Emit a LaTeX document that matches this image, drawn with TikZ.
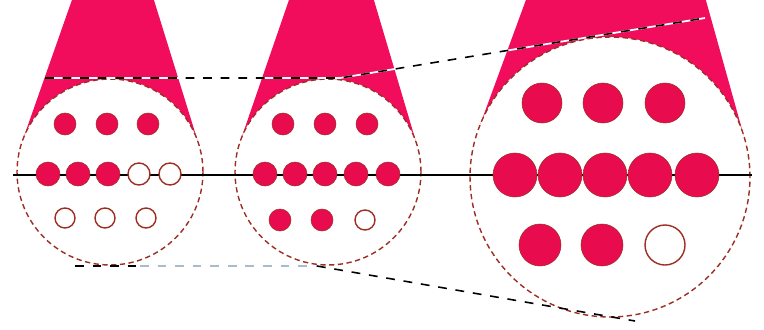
\documentclass[tikz,border=0pt]{standalone}
\usetikzlibrary{calc,backgrounds}
\definecolor{rose}{HTML}{F20C5C}
\definecolor{dotred}{HTML}{E80C4E}
\definecolor{rim}{HTML}{9C2E22}
\definecolor{fadeblue}{HTML}{A8BCCB}
\tikzset{
  lens/.style={circle,draw=rim,densely dashed,line width=0.8pt,fill=white,inner sep=0pt,outer sep=0pt},
  cone/.style={fill=rose},
  dot/.style={fill=dotred,draw=rim,line width=0.3pt},
  hole/.style={fill=white,draw=rim,line width=0.8pt},
  axis/.style={draw=black,line width=1.1pt},
  guide/.style={draw=black,line width=0.9pt,dash pattern=on 5pt off 5pt},
  guidefade/.style={draw=fadeblue,line width=0.9pt,dash pattern=on 5pt off 5pt},
  guidebase/.style={draw=white,line width=1pt}
}
\begin{document}
\begin{tikzpicture}[x=0.02cm,y=-0.02cm]
\useasboundingbox (0,0) rectangle (764,329);
% lenses
\node[lens,minimum size=3.72cm] (l1) at (110,172) {};
\node[lens,minimum size=3.72cm] (l2) at (328,172) {};
\node[lens,minimum size=5.6cm] (l3) at (610,177) {};
% cones behind the lenses
\begin{scope}[on background layer]
\foreach \lens/\lft/\rgt in {l1/73/153,l2/290/373,l3/527/705}{
  \fill[cone] (\lft,-3) -- (\rgt,-3) -- (\lens.center) -- cycle;
  \fill[cone] (\lft,-3) -- (tangent cs:node=\lens,point={(\lft,-3)},solution=1) -- (\lens.center) -- (tangent cs:node=\lens,point={(\lft,-3)},solution=2) -- cycle;
  \fill[cone] (\rgt,-3) -- (tangent cs:node=\lens,point={(\rgt,-3)},solution=1) -- (\lens.center) -- (tangent cs:node=\lens,point={(\rgt,-3)},solution=2) -- cycle;
}
\end{scope}
% guide lines
\draw[guidebase] (45,78) -- (340,78) -- (705,18);
\draw[guide] (45,78) -- (340,78) -- (705,18);
\draw[guide] (75,266) -- (140,266);
\draw[guidefade] (140,266) -- (317,266);
\draw[guide] (317,266) -- (635,321);
% axis
\draw[axis] (13,175) -- (752,175);
% dots, small lens
\foreach \x in {65,107,148} \draw[dot] (\x,124) circle (11);
\foreach \x in {48,78,108} \draw[dot] (\x,174) circle (12);
\foreach \x in {139,170} \draw[hole] (\x,174) circle (11);
\foreach \x in {65,105,146} \draw[hole] (\x,218) circle (10);
% dots, middle lens
\foreach \x in {283,325,367} \draw[dot] (\x,124) circle (11);
\foreach \x in {265,295,325,356,388} \draw[dot] (\x,174) circle (12);
\foreach \x in {280,322} \draw[dot] (\x,220) circle (11);
\draw[hole] (365,220) circle (10);
% dots, large lens
\foreach \x in {542,603,665} \draw[dot] (\x,103) circle (20);
\foreach \x in {515,560,605,650,697} \draw[dot] (\x,175) circle (22);
\foreach \x in {540,602} \draw[dot] (\x,245) circle (21);
\draw[hole] (665,245) circle (20);
\end{tikzpicture}
\end{document}
